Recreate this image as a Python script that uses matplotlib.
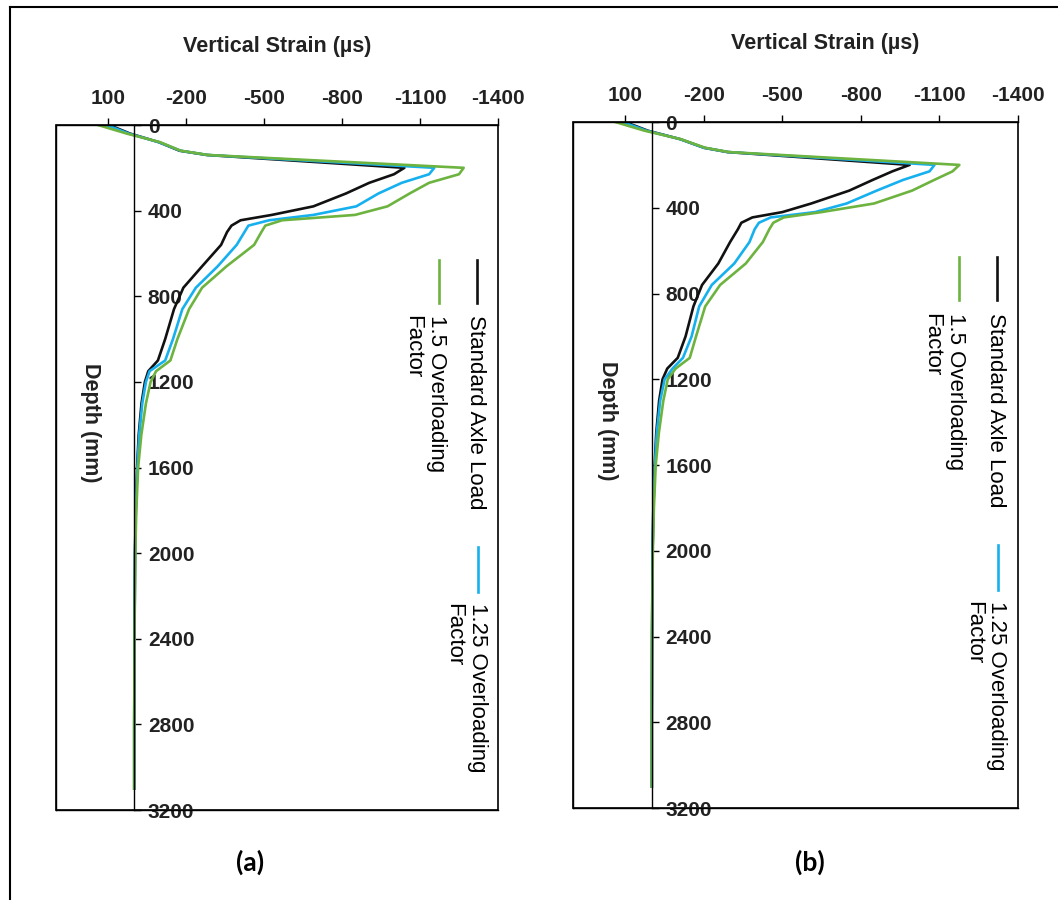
import numpy as np
import matplotlib.pyplot as plt
from matplotlib.lines import Line2D

plt.rcParams['font.family'] = ['Liberation Sans', 'DejaVu Sans']
plt.rcParams['axes.unicode_minus'] = False

# depth (mm) shared by all series, strain (microstrain)
depth = [0, 40, 80, 120, 140, 200, 230, 270, 320, 380, 420, 445, 470, 500, 560,
         660, 760, 860, 1000, 1100, 1150, 1200, 1300, 1450, 1600, 1800, 2000,
         2400, 2800, 3100]

# panel (a)
stdA = [95, 15, -95, -175, -280, -1040, -1000, -905, -815, -690, -530, -410, -375,
        -358, -335, -262, -190, -154, -120, -92, -55, -42, -29, -18, -12, -7, -4,
        -2, -1, -1]
f125A = [105, 20, -95, -178, -282, -1155, -1135, -1030, -940, -855, -690, -520, -440,
         -425, -395, -322, -238, -186, -150, -120, -60, -46, -32, -20, -13, -7, -4,
         -2, -1, -1]
f15A = [138, 28, -100, -180, -285, -1268, -1250, -1135, -1060, -975, -850, -570, -505,
        -490, -462, -356, -262, -212, -167, -140, -85, -64, -46, -28, -16, -9, -5,
        -2, -1, -1]

# panel (b)
stdB = [100, 15, -110, -200, -290, -986, -920, -845, -755, -610, -500, -385, -343,
        -330, -300, -255, -193, -160, -130, -100, -60, -42, -29, -18, -12, -7, -4,
        -2, -1, -1]
f125B = [110, 20, -110, -200, -292, -1081, -1062, -961, -860, -745, -625, -455, -410,
         -394, -374, -316, -230, -182, -153, -120, -80, -50, -33, -20, -13, -7, -4,
         -2, -1, -1]
f15B = [138, 28, -112, -205, -295, -1176, -1150, -1080, -995, -850, -650, -505, -465,
        -450, -425, -360, -262, -205, -170, -146, -92, -62, -45, -28, -16, -9, -5,
        -2, -1, -1]

xTicks = [100, -200, -500, -800, -1100, -1400]
yTicks = [0, 400, 800, 1200, 1600, 2000, 2400, 2800, 3200]
seriesNames = ["Standard Axle Load", "1.25 Overloading\nFactor", "1.5 Overloading\nFactor"]
seriesColors = ["#111111", "#16b0ee", "#6db33f"]


def strainPanel(fig, rect, series, titleX, panelLabel, labelX):
    ax = fig.add_axes(rect)
    for vals, c in zip(series, seriesColors):
        ax.plot(vals, depth, color=c, lw=1.9, solid_joinstyle='round')
    ax.set_xlim(300, -1400)
    ax.set_ylim(3200, 0)
    ax.set_xticks(xTicks)
    ax.set_yticks(yTicks)
    ax.xaxis.tick_top()
    #vertical axis crosses at strain = 0, labels to its right
    ax.spines['right'].set_position(('data', 0))
    ax.yaxis.tick_right()
    for s in ax.spines.values():
        s.set_linewidth(1.0)
    ax.add_patch(plt.Rectangle((0, 0), 1, 1, transform=ax.transAxes, fill=False,
                               lw=1.2, clip_on=False))
    ax.tick_params(axis='x', direction='out', length=5, width=1, pad=7, labelsize=15)
    ax.tick_params(axis='y', direction='out', length=5, width=1, pad=5, labelsize=15)
    for t in ax.get_xticklabels() + ax.get_yticklabels():
        t.set_fontweight('bold')
        t.set_color('#222222')
    ax.text(titleX, 1.114, "Vertical Strain (\u00b5s)", transform=ax.transAxes,
            ha='center', va='center', fontsize=15.5, fontweight='bold', color='#222222')
    ax.text(0.077, 0.565, "Depth (mm)", transform=ax.transAxes, rotation=270,
            ha='center', va='center', fontsize=15.5, fontweight='bold', color='#222222')
    #rotated legend drawn by hand: key line x, key y0, y1, last-line baseline x, text y
    keys = [(0.9525, 0.803, 0.740, 0.937, 0.722),
            (0.955, 0.384, 0.318, 0.893, 0.302),
            (0.8665, 0.803, 0.740, 0.800, 0.722)]
    for (lx, y0, y1, tx, ty), name, c in zip(keys, seriesNames, seriesColors):
        ax.add_line(Line2D([lx, lx], [y0, y1], transform=ax.transAxes, color=c, lw=1.9))
        ax.text(tx, ty, name, transform=ax.transAxes, rotation=270, rotation_mode='anchor',
                ha='left', va='baseline', fontsize=16, linespacing=1.15)
    fig.text(labelX, 0.042, panelLabel, ha='center', va='center', fontsize=19,
             fontweight='bold', family=['Lato', 'DejaVu Sans'])
    return ax


fig = plt.figure(figsize=(10.58, 9.0), dpi=100)
strainPanel(fig, [0.0529, 0.1, 0.4178, 0.7611], [stdA, f125A, f15A], 0.5, "(a)", 0.236)
strainPanel(fig, [0.5416, 0.1022, 0.4206, 0.7622], [stdB, f125B, f15B], 0.566, "(b)", 0.7656)

#outer frame: top and left border only
fig.add_artist(Line2D([0.0095, 0.0095], [0, 0.992], transform=fig.transFigure, color='black', lw=1.5))
fig.add_artist(Line2D([0.0095, 1.0], [0.992, 0.992], transform=fig.transFigure, color='black', lw=1.5))

fig.savefig("out.png", dpi=100)
